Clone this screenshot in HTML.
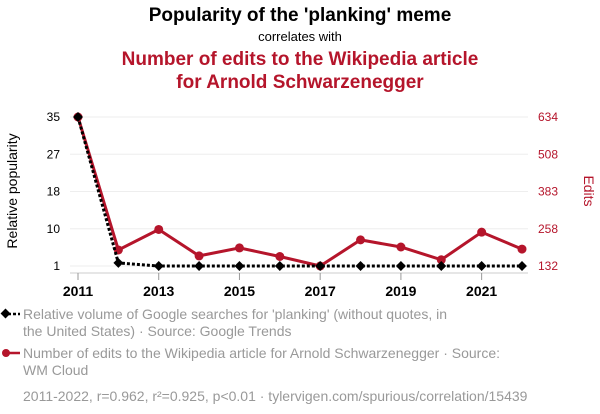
<!DOCTYPE html>
<html><head><meta charset="utf-8"><style>
body{margin:0;background:#fff;font-family:"Liberation Sans",sans-serif;}
svg{display:block}
</style></head><body>
<svg width="600" height="414" viewBox="0 0 600 414">
<text x="300" y="21" text-anchor="middle" font-size="19" font-weight="bold" fill="#000">Popularity of the 'planking' meme</text>
<text x="300" y="41" text-anchor="middle" font-size="13" fill="#000">correlates with</text>
<text x="300" y="65" text-anchor="middle" font-size="19" font-weight="bold" fill="#b5152b">Number of edits to the Wikipedia article</text>
<text x="300" y="88" text-anchor="middle" font-size="19" font-weight="bold" fill="#b5152b">for Arnold Schwarzenegger</text>
<g id="grid"></g>
<g id="axes"></g>
<g id="series"></g>
<text transform="translate(17,191) rotate(-90)" text-anchor="middle" font-size="14" fill="#000">Relative popularity</text>
<text transform="translate(584,191) rotate(90)" text-anchor="middle" font-size="14" fill="#b5152b">Edits</text>
<g>
<line x1="3" y1="314" x2="20" y2="314" stroke="#000" stroke-width="2.5" stroke-dasharray="3,2"/>
<rect x="2" y="310" width="7" height="7" transform="rotate(45 5.5 313.5)" fill="#000"/>
<text x="23" y="319" font-size="14" fill="#999">Relative volume of Google searches for 'planking' (without quotes, in</text>
<text x="23" y="336" font-size="14" fill="#999">the United States) · Source: Google Trends</text>
</g>
<g>
<line x1="3" y1="353" x2="20" y2="353" stroke="#b5152b" stroke-width="2.5"/>
<circle cx="6" cy="353" r="4" fill="#b5152b"/>
<text x="23" y="358" font-size="14" fill="#999">Number of edits to the Wikipedia article for Arnold Schwarzenegger · Source:</text>
<text x="23" y="375" font-size="14" fill="#999">WM Cloud</text>
</g>
<text x="23" y="401" font-size="14" fill="#999">2011-2022, r=0.962, r²=0.925, p&lt;0.01 · tylervigen.com/spurious/correlation/15439</text>
</svg>
<script>
const years=[2011,2012,2013,2014,2015,2016,2017,2018,2019,2020,2021,2022];
const planking=[35,1.7,1,1,1,1,1,1,1,1,1,1];
const edits=[634,186,255,166,193,164,132,220,196,153,246,189];
const leftTicks=[1,9.5,18,26.5,35];
const leftTickLabels=['1','10','18','27','35'];
const rightTicks=[132,257.5,383,508.5,634];
const rightTickLabels=['132','258','383','508','634'];
const xTicks=[2011,2013,2015,2017,2019,2021];
const NS="http://www.w3.org/2000/svg";
const x=y=>78+(y-2011)*(522-78)/11;
const yL=v=>266-(v-1)*(266-117)/34;
const yR=v=>266-(v-132)*(266-117)/(634-132);
function mk(t,a,p){const e=document.createElementNS(NS,t);for(const k in a)e.setAttribute(k,a[k]);p.appendChild(e);return e;}
const grid=document.getElementById('grid'),axes=document.getElementById('axes'),ser=document.getElementById('series');
leftTicks.forEach((v,i)=>{
 const g=mk('line',{x1:70,x2:528,y1:yL(v),y2:yL(v),stroke:'#eee','stroke-width':1},grid);
 
 
 const t=mk('text',{x:60,y:yL(v)+4,'text-anchor':'end','font-size':12,fill:'#000'},axes);t.textContent=leftTickLabels[i];
 
 
 const r=mk('text',{x:538,y:yR(rightTicks[i])+4,'font-size':12,fill:'#b5152b'},axes);r.textContent=rightTickLabels[i];
 
 
});
const ax=mk('line',{x1:70,x2:528,y1:273,y2:273,stroke:'#ccc','stroke-width':1},axes);


xTicks.forEach(yr=>{
 mk('line',{x1:x(yr),x2:x(yr),y1:273,y2:280,stroke:'#999'},axes);
 const t=mk('text',{x:x(yr),y:296,'text-anchor':'middle','font-size':14,'font-weight':'bold',fill:'#000'},axes);t.textContent=yr;
 
 
});
const rl=mk('polyline',{points:years.map((y,i)=>x(y)+','+yR(edits[i])).join(' '),fill:'none',stroke:'#b5152b','stroke-width':3},ser);


years.forEach((y,i)=>{const c=mk('circle',{cx:x(y),cy:yR(edits[i]),r:4.5,fill:'#b5152b'},ser);
 
 });
const bl=mk('polyline',{points:years.map((y,i)=>x(y)+','+yL(planking[i])).join(' '),fill:'none',stroke:'#000','stroke-width':3,'stroke-dasharray':'3,2'},ser);


years.forEach((y,i)=>{const cx=x(y),cy=yL(planking[i]);
 const d=mk('rect',{x:cx-3.5,y:cy-3.5,width:7,height:7,fill:'#000',transform:`rotate(45 ${cx} ${cy})`},ser);
 
 });
</script>
</body></html>
